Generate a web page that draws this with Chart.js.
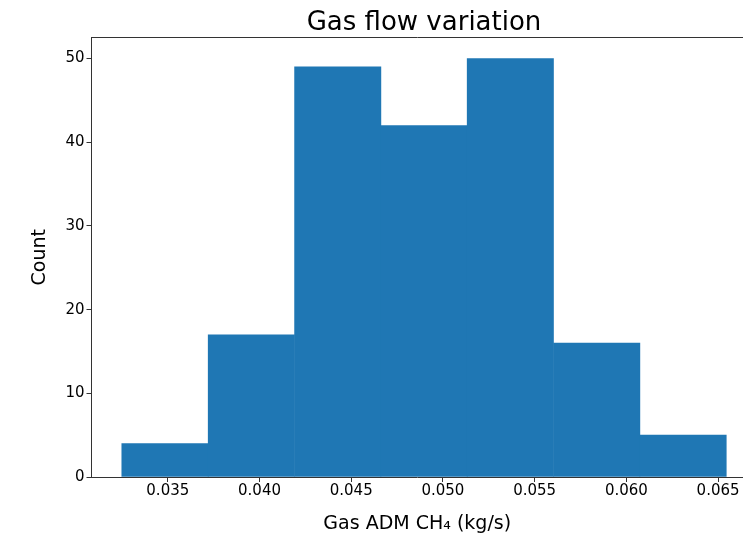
<!DOCTYPE html>
<html>
<head>
<meta charset="utf-8">
<title>Gas flow variation</title>
<script src="https://cdn.jsdelivr.net/npm/chart.js@4/dist/chart.umd.min.js"></script>
<style>
  html, body { margin: 0; padding: 0; background: #fff; overflow: hidden; }
  #chart { display: block; }
</style>
</head>
<body>
<canvas id="chart" width="743" height="537"></canvas>
<script>
/*
  histogram of the gas flow, 7 bins
*/
const binEdges = [0.03249, 0.03720, 0.04191, 0.04662, 0.05132, 0.05603, 0.06074, 0.06545];
const counts = [4, 17, 49, 42, 50, 16, 5];
const xTicks = [0.035, 0.040, 0.045, 0.050, 0.055, 0.060, 0.065];
const yTicks = [0, 10, 20, 30, 40, 50];

const FONT = "'DejaVu Sans', sans-serif";
const SPINE = "#333";

// bar centres, width comes from the spacing of the centres
const bars = counts.map((c, i) => ({ x: (binEdges[i] + binEdges[i + 1]) / 2, y: c }));

// x range: left is the usual 5% margin, right side is cut off by the picture edge
const xMin = 0.03084;
const xMax = 0.06636;

Chart.defaults.font.family = FONT;
Chart.defaults.color = "#000";

// the original axes run a bit past the right edge, centre the title on the full width
const titleShift = {
  id: "titleShift",
  afterLayout(chart) {
    if (chart.titleBlock) chart.titleBlock.right += 13.5;
  }
};

new Chart(document.getElementById("chart"), {
  type: "bar",
  data: {
    datasets: [{
      data: bars,
      backgroundColor: "#1f77b4",
      borderWidth: 0,
      barPercentage: 1,
      categoryPercentage: 1
    }]
  },
  plugins: [titleShift],
  options: {
    responsive: false,
    animation: false,
    devicePixelRatio: 1,
    layout: { padding: 0 },
    plugins: {
      legend: { display: false },
      tooltip: { enabled: false },
      title: {
        display: true,
        text: "Gas flow variation",
        fullSize: false,
        color: "#000",
        font: { size: 26, weight: "normal", family: FONT },
        padding: { top: 7.9, bottom: -1.5 }
      }
    },
    scales: {
      x: {
        type: "linear",
        position: "bottom",
        offset: false,
        min: xMin,
        max: xMax,
        afterBuildTicks: s => { s.ticks = xTicks.map(v => ({ value: v })); },
        afterFit: s => { s.height = 60; },
        ticks: {
          font: { size: 15 },
          padding: 0,
          maxRotation: 0,
          callback: v => v.toFixed(3)
        },
        grid: { display: true, offset: false, drawOnChartArea: false, drawTicks: true, tickLength: 5, tickColor: SPINE },
        border: { display: true, color: SPINE, width: 1 },
        title: {
          display: true,
          text: "Gas ADM CH\u2084 (kg/s)",
          font: { size: 19 },
          padding: { top: 0, bottom: 1.6 }
        }
      },
      // only there to draw the top spine
      x2: {
        type: "linear",
        position: "top",
        offset: false,
        min: xMin,
        max: xMax,
        afterFit: s => { s.height = 0; },
        ticks: { display: false },
        grid: { display: false },
        border: { display: true, color: SPINE, width: 1 }
      },
      y: {
        min: 0,
        max: 52.5,
        afterBuildTicks: s => { s.ticks = yTicks.map(v => ({ value: v })); },
        afterFit: s => { s.width = 91.5; },
        ticks: { font: { size: 15 }, padding: 2 },
        grid: { display: true, drawOnChartArea: false, drawTicks: true, tickLength: 5, tickColor: SPINE },
        border: { display: true, color: SPINE, width: 1 },
        title: {
          display: true,
          text: "Count",
          font: { size: 19 },
          padding: { top: 29, bottom: 0 }
        }
      }
    }
  }
});
</script>
</body>
</html>
